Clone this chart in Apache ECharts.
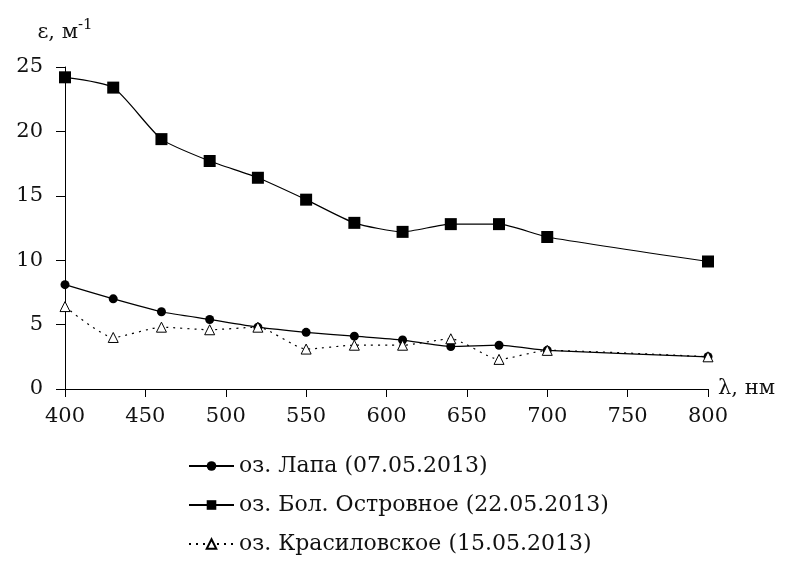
<!DOCTYPE html>
<html>
<head>
<meta charset="utf-8">
<script src="https://cdn.jsdelivr.net/npm/echarts@6/dist/echarts.min.js"></script>
<style>html,body{margin:0;padding:0;background:#fff;}#c{width:797px;height:587px;}</style>
</head>
<body>
<div id="c"></div>
<script>
const lambda = [400, 430, 460, 490, 520, 550, 580, 610, 640, 670, 700, 800];
const lapa = [8.1, 7.0, 6.0, 5.4, 4.8, 4.4, 4.1, 3.8, 3.3, 3.4, 3.0, 2.5];
const ostrovnoe = [24.2, 23.4, 19.4, 17.7, 16.4, 14.7, 12.9, 12.2, 12.8, 12.8, 11.8, 9.9];
const krasil = [6.4, 4.0, 4.8, 4.6, 4.8, 3.1, 3.4, 3.4, 3.9, 2.3, 3.0, 2.5];
const seriesNames = ['оз. Лапа (07.05.2013)', 'оз. Бол. Островное (22.05.2013)', 'оз. Красиловское (15.05.2013)'];

const FONT = 'DejaVu Serif';
const chart = echarts.init(document.getElementById('c'), null, {renderer: 'canvas'});
const pairs = arr => lambda.map((x, i) => [x, arr[i]]);

chart.setOption({
  animation: false,
  backgroundColor: '#fff',
  textStyle: {fontFamily: FONT, color: '#111'},
  grid: {left: 65, right: 89, top: 67, bottom: 198},
  xAxis: {
    type: 'value', min: 400, max: 800, interval: 50,
    name: 'λ, нм', nameLocation: 'end', nameGap: 10,
    nameTextStyle: {fontFamily: FONT, fontSize: 21, color: '#111', verticalAlign: 'middle'},
    axisLine: {lineStyle: {color: '#000', width: 1}},
    axisTick: {show: true, length: 8, inside: false, lineStyle: {color: '#000'}},
    axisLabel: {margin: 17, fontFamily: FONT, fontSize: 21, color: '#111'},
    splitLine: {show: false}
  },
  yAxis: {
    type: 'value', min: 0, max: 25, interval: 5,
    name: 'ε, м{sup|-1}', nameLocation: 'end', nameGap: 20,
    nameTextStyle: {
      fontFamily: FONT, fontSize: 21, color: '#111', align: 'center',
      rich: {sup: {fontFamily: FONT, fontSize: 15, color: '#111', padding: [0, 0, 14, 0]}}
    },
    axisLine: {show: true, lineStyle: {color: '#000', width: 1}},
    axisTick: {show: true, length: 9, inside: false, lineStyle: {color: '#000'}},
    axisLabel: {margin: 22, fontFamily: FONT, fontSize: 21, color: '#111'},
    splitLine: {show: false}
  },
  legend: {
    orient: 'vertical', left: 183, top: 450, itemGap: 17,
    itemWidth: 45, itemHeight: 12,
    textStyle: {fontFamily: FONT, fontSize: 22, color: '#111'},
    data: seriesNames
  },
  series: [
    {
      name: seriesNames[0], type: 'line', data: pairs(lapa), smooth: 0.2,
      symbol: 'circle', symbolSize: 9,
      lineStyle: {color: '#000', width: 1.2},
      itemStyle: {color: '#000'}
    },
    {
      name: seriesNames[1], type: 'line', data: pairs(ostrovnoe), smooth: 0.2,
      symbol: 'rect', symbolSize: 12,
      lineStyle: {color: '#000', width: 1.2},
      itemStyle: {color: '#000'}
    },
    {
      name: seriesNames[2], type: 'line', data: pairs(krasil), smooth: 0.2,
      symbol: 'triangle', symbolSize: 10,
      lineStyle: {color: '#000', width: 1.2, type: [2, 5]},
      itemStyle: {color: '#fff', borderColor: '#000', borderWidth: 1}
    }
  ]
});
</script>
</body>
</html>
